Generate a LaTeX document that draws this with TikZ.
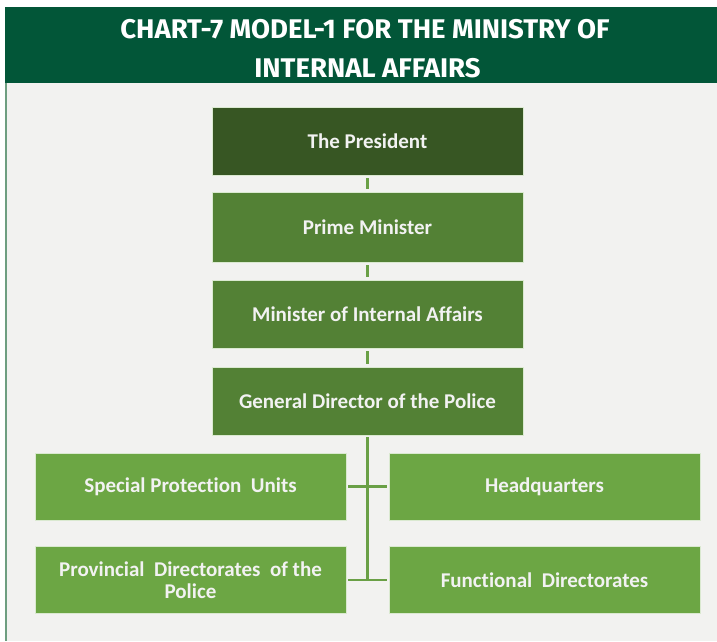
\documentclass[tikz,border=0pt]{standalone}
\usepackage{fontspec}
\setmainfont{Carlito}[Ligatures=NoCommon]
\newfontfamily\titlefont{Fira Sans}
\definecolor{hdr}{RGB}{2,86,56}
\definecolor{bgc}{RGB}{242,242,240}
\definecolor{pres}{RGB}{55,86,35}
\definecolor{midg}{RGB}{83,129,53}
\definecolor{lowg}{RGB}{108,166,68}
\definecolor{conng}{RGB}{106,160,70}
\definecolor{edgeg}{RGB}{110,158,128}
\definecolor{txt}{RGB}{242,242,242}
\tikzset{
  box/.style={inner sep=0pt, minimum width=311pt, minimum height=68pt, draw=white!75!lowg, line width=0.8pt, text=txt, font=\bfseries\fontsize{21}{22}\selectfont, align=center},
  topbox/.style={box, fill=midg},
  lowbox/.style={box, fill=lowg},
  conn/.style={draw=conng, line width=2.5pt},
  ttl/.style={text=white, inner sep=0pt, anchor=base, font=\titlefont\bfseries\fontsize{27}{30}\selectfont}
}
\begin{document}
\begin{tikzpicture}[x=1pt,y=-1pt]
\useasboundingbox (0,0) rectangle (717,641);
\fill[white] (0,0) rectangle (717,641);
\fill[bgc] (5,83) rectangle (717,641);
\fill[hdr] (5,7) rectangle (717,83);
\draw[edgeg, line width=1.6pt] (5.8,83) -- (5.8,641);
\node[ttl] (t1) at (365,38) {\scalebox{1.02}[1]{CHART-7 MODEL-1 FOR THE MINISTRY OF}};
\node[ttl] (t2) at (367.5,77) {\scalebox{1.02}[1]{INTERNAL AFFAIRS}};
\node[box, fill=pres] (pres) at (367.5,141) {The President};
\node[topbox, minimum height=70pt] (pm) at (367.5,227) {Prime Minister};
\node[topbox] (min) at (367.5,314) {Minister of Internal Affairs};
\node[topbox] (gd) at (367.5,401) {General Director of the Police};
\node[lowbox, minimum height=67pt] (spu) at (190.5,486.5) {Special Protection\ \ Units};
\node[lowbox, minimum height=67pt] (hq) at (544.5,486.5) {Headquarters};
\node[lowbox, minimum height=67pt] (prov) at (190.5,580) {Provincial\ \ Directorates\ \ of\ the\\Police};
\node[lowbox, minimum height=67pt] (func) at (544.5,580) {Functional\ \ Directorates};
\draw[conn, shorten <=3pt, shorten >=3pt] (pres.south) -- (pm.north);
\draw[conn, shorten <=3pt, shorten >=3pt] (pm.south) -- (min.north);
\draw[conn, shorten <=3pt, shorten >=3pt] (min.south) -- (gd.north);
\draw[conn, shorten <=2pt] (gd.south) -- (gd.south |- func.west);
\draw[conn, shorten <=2pt, shorten >=2pt] (spu.east) -- (hq.west);
\draw[conn, shorten <=2pt, shorten >=2pt] (prov.east) -- (func.west);
\end{tikzpicture}
\end{document}
